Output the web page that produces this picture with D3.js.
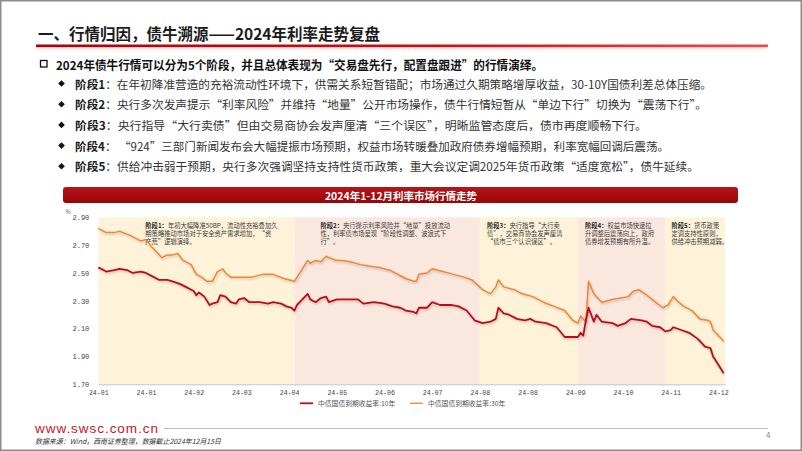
<!DOCTYPE html>
<html>
<head>
<meta charset="utf-8">
<style>
body{margin:0;background:#fff;}
svg{display:block;font-family:"Noto Sans CJK SC","Noto Sans",sans-serif;}
</style>
</head>
<body>
<svg id="slide" width="802" height="451"></svg>

<script src="https://cdn.jsdelivr.net/npm/d3@7.8.5/dist/d3.min.js"></script>
<script>
// 2024 bond yields, trading-day index (0 = first trading day of 2024)
const days10 = [0,3,6,8,11,13,16,18,21,23,26,28,31,33,36,37,38,40,42,43,45,46,48,50,52,53,55,57,58,61,64,66,69,71,73,74,75,77,79,80,82,84,86,87,90,94,98,100,104,108,111,114,116,119,120,121,124,126,129,133,136,139,142,145,148,150,151,153,155,158,161,163,165,169,173,176,179,181,182,183,184,185,187,188,190,194,196,199,201,205,207,209,212,214,216,217,220,223,226,228,229,231,232,234,236];
const yield10 = [2.54,2.51,2.52,2.53,2.52,2.50,2.51,2.50,2.47,2.45,2.45,2.44,2.42,2.40,2.37,2.34,2.36,2.33,2.27,2.28,2.29,2.34,2.33,2.29,2.28,2.31,2.32,2.29,2.29,2.29,2.28,2.29,2.28,2.26,2.25,2.23,2.27,2.31,2.35,2.31,2.29,2.32,2.33,2.29,2.31,2.31,2.31,2.28,2.29,2.28,2.26,2.25,2.23,2.22,2.21,2.25,2.25,2.29,2.27,2.27,2.26,2.23,2.16,2.14,2.15,2.17,2.25,2.21,2.20,2.17,2.16,2.17,2.15,2.14,2.11,2.04,2.04,2.04,2.07,2.05,2.16,2.25,2.15,2.20,2.15,2.14,2.12,2.14,2.17,2.16,2.15,2.12,2.11,2.08,2.09,2.11,2.09,2.07,2.03,1.99,1.97,1.96,1.90,1.84,1.78];

const days30 = [0,3,6,8,12,16,18,20,22,24,26,28,30,32,35,37,39,41,43,45,47,48,50,53,56,58,62,66,70,74,75,77,79,80,82,84,86,87,90,92,95,99,102,106,110,114,116,119,120,121,124,126,130,134,138,141,145,148,150,151,153,157,160,164,168,172,176,179,181,182,184,185,187,190,194,200,202,204,207,209,213,215,217,219,221,224,227,230,231,232,234,236];
const yield30 = [2.82,2.79,2.79,2.80,2.77,2.73,2.74,2.69,2.65,2.61,2.63,2.63,2.64,2.59,2.56,2.49,2.47,2.44,2.44,2.51,2.53,2.50,2.47,2.47,2.47,2.47,2.49,2.49,2.46,2.44,2.47,2.53,2.59,2.57,2.59,2.58,2.62,2.61,2.59,2.59,2.58,2.56,2.55,2.54,2.52,2.48,2.46,2.44,2.44,2.49,2.50,2.53,2.51,2.49,2.47,2.45,2.38,2.35,2.40,2.45,2.40,2.38,2.35,2.33,2.29,2.26,2.23,2.16,2.14,2.19,2.15,2.44,2.35,2.29,2.31,2.33,2.37,2.38,2.34,2.31,2.25,2.27,2.33,2.29,2.26,2.23,2.17,2.16,2.15,2.09,2.05,2.01];

const tickDays = [0,18,36,54,72,90,108,126,144,162,180,198,216,234];
const tickLabels = ["24-01","24-01","24-02","24-03","24-04","24-05","24-06","24-07","24-08","24-08","24-09","24-10","24-11","24-12"];
const yTicks = [1.70,1.90,2.10,2.30,2.50,2.70,2.90];

const seriesNames = ["中债国债到期收益率:10年","中债国债到期收益率:30年"];

// the five phases
const phaseStart = [0,74,144,181,214];
const phaseEnd = [74,144,181,214,236.5];
const phaseNames = ["阶段1","阶段2","阶段3","阶段4","阶段5"];
const phaseNotes = [
  ["年初大幅降准50BP，流动性充裕叠加久","期策略推动市场对于安全资产需求增加，“资","产荒”逻辑演绎。"],
  ["央行提示利率风险并“地量”投放流动","性，利率债市场呈现“阶段性调整、波浪式下","行”。"],
  ["央行指导“大行卖","债”，交易商协会发声厘清","“债市三个认识误区”。"],
  ["权益市场快速拉","升调整后震荡向上，政府","债券增发预期有所升温。"],
  ["货币政策","定调支持性原则，","供给冲击预期减弱。"]
];

const title = "一、行情归因，债牛溯源——2024年利率走势复盘";
const headLine = "2024年债牛行情可以分为5个阶段，并且总体表现为“交易盘先行，配置盘跟进”的行情演绎。";
const bulletText = [
  "：在年初降准营造的充裕流动性环境下，供需关系短暂错配；市场通过久期策略增厚收益，30-10Y国债利差总体压缩。",
  "：央行多次发声提示“利率风险”并维持“地量”公开市场操作，债牛行情短暂从“单边下行”切换为“震荡下行”。",
  "：央行指导“大行卖债”但由交易商协会发声厘清“三个误区”，明晰监管态度后，债市再度顺畅下行。",
  "： “924”三部门新闻发布会大幅提振市场预期，权益市场转暖叠加政府债券增幅预期，利率宽幅回调后震荡。",
  "：供给冲击弱于预期，央行多次强调坚持支持性货币政策，重大会议定调2025年货币政策“适度宽松”，债牛延续。"
];
const chartTitle = "2024年1-12月利率市场行情走势";
const sourceNote = "数据来源：Wind，西南证券整理，数据截止2024年12月15日";

(function main(){
    const svg = d3.select("#slide");
    const W = 802, H = 451;

    const defs = svg.append("defs");
    const rule = defs.append("linearGradient").attr("id","rule").attr("x1",0).attr("x2",1);
    rule.append("stop").attr("offset",0).attr("stop-color","#9c0808");
    rule.append("stop").attr("offset",0.55).attr("stop-color","#c5121a");
    rule.append("stop").attr("offset",1).attr("stop-color","#e25050");
    const glow = defs.append("linearGradient").attr("id","glow").attr("x1",0).attr("x2",0).attr("y1",0).attr("y2",1);
    glow.append("stop").attr("offset",0).attr("stop-color","#f3c8c8");
    glow.append("stop").attr("offset",1).attr("stop-color","#fff").attr("stop-opacity",0);
    const bar = defs.append("linearGradient").attr("id","bar").attr("x1",0).attr("x2",0).attr("y1",0).attr("y2",1);
    bar.append("stop").attr("offset",0).attr("stop-color","#b8141a");
    bar.append("stop").attr("offset",1).attr("stop-color","#970606");
    const shadow = defs.append("filter").attr("id","shadow").attr("x","-5%").attr("y","-20%").attr("width","110%").attr("height","140%");
    shadow.append("feDropShadow").attr("dx",0.8).attr("dy",1.4).attr("stdDeviation",0.9)
        .attr("flood-color","#000").attr("flood-opacity",0.22);

    // slide frame
    svg.append("rect").attr("x",0.75).attr("y",0.75).attr("width",W-1.5).attr("height",H-1.5)
        .attr("fill","#fff").attr("stroke","#8c8c8c").attr("stroke-width",1.5);

    // header
    svg.append("text").attr("x",38).attr("y",32.5).attr("dominant-baseline","central")
        .attr("font-size",16).attr("font-weight","bold").attr("fill","#1b1b1b")
        .attr("textLength",342).attr("lengthAdjust","spacingAndGlyphs").text(title);
    svg.append("rect").attr("x",36).attr("y",47).attr("width",730).attr("height",5).attr("fill","url(#glow)");
    svg.append("rect").attr("x",36).attr("y",44.5).attr("width",732).attr("height",2.6).attr("fill","url(#rule)");

    // bullets
    svg.append("rect").attr("x",40.5).attr("y",60.5).attr("width",6.5).attr("height",6.5)
        .attr("fill","none").attr("stroke","#111").attr("stroke-width",1.3);
    svg.append("text").attr("x",56).attr("y",64).attr("dominant-baseline","central")
        .attr("font-size",12).attr("font-weight","bold").attr("fill","#111")
        .attr("textLength",487).attr("lengthAdjust","spacingAndGlyphs").text(headLine);

    const lineEnds = [712, 707, 647, 669, 699];
    const diamond = d3.symbol().type(d3.symbolSquare).size(22);
    bulletText.forEach((t,i) => {
        const cy = 83.5 + i*20.7;
        svg.append("path").attr("d",diamond).attr("fill","#111")
            .attr("transform",`translate(61.5,${cy}) rotate(45)`);
        const tx = svg.append("text").attr("x",75).attr("y",cy).attr("dominant-baseline","central")
            .attr("font-size",11.6).attr("fill","#333")
            .attr("textLength",lineEnds[i]-75).attr("lengthAdjust","spacingAndGlyphs");
        tx.append("tspan").attr("font-weight","bold").attr("fill","#1a1a1a").text(phaseNames[i]);
        tx.append("tspan").text(t);
    });

    // chart title bar
    svg.append("rect").attr("x",63).attr("y",187).attr("width",675).attr("height",16).attr("rx",3)
        .attr("fill","url(#bar)");
    svg.append("text").attr("x",401).attr("y",195.2).attr("text-anchor","middle").attr("dominant-baseline","central")
        .attr("font-size",10.5).attr("font-weight","bold").attr("fill","#fff").text(chartTitle);

    // scales
    const x = d3.scaleLinear().domain([0, 236.5]).range([98.3, 725]);
    const y = d3.scaleLinear().domain([1.70, 2.90]).range([384.3, 217.3]);

    // phase bands
    const bandFill = ["#fef2d9","#fae8de","#fef2d9","#fae8de","#fef2d9"];
    svg.append("g").selectAll("rect").data(phaseStart).join("rect")
        .attr("x", d => x(d))
        .attr("width", (d,i) => x(phaseEnd[i]) - x(d))
        .attr("y", y(2.90)).attr("height", y(1.70) - y(2.90))
        .attr("fill", (d,i) => bandFill[i]);

    // phase notes
    const noteDx = [47, 26, 7, 7, 6];
    phaseNotes.forEach((lines,i) => {
        const g = svg.append("g").attr("font-size",6.3).attr("fill","#3a3a3a");
        lines.forEach((ln,k) => {
            const t = g.append("text").attr("x", x(phaseStart[i]) + noteDx[i]).attr("y", 225 + k*8.2)
                .attr("dominant-baseline","central");
            if (k === 0) t.append("tspan").attr("font-weight","bold").attr("fill","#222").text(phaseNames[i] + "：");
            t.append("tspan").text(ln);
        });
    });

    // axes
    const xAxis = svg.append("g").attr("transform",`translate(0,${y(1.70)})`)
        .call(d3.axisBottom(x).tickValues(tickDays).tickFormat((d,i) => tickLabels[i]).tickSize(0).tickPadding(6));
    xAxis.select(".domain").attr("stroke","#c4c4c4").attr("stroke-width",1);
    xAxis.selectAll("text").attr("font-family","'Liberation Mono',monospace").attr("font-size",6.6).attr("fill","#444");

    const yAxis = svg.append("g").attr("transform",`translate(${x(0)},0)`)
        .call(d3.axisLeft(y).tickValues(yTicks).tickFormat(d3.format(".2f")).tickSize(0).tickPadding(9));
    yAxis.select(".domain").remove();
    yAxis.selectAll("text").attr("font-family","'Liberation Mono',monospace").attr("font-size",7).attr("fill","#444");
    svg.append("text").attr("x",68).attr("y",212).attr("text-anchor","middle").attr("dominant-baseline","central")
        .attr("font-size",5.5).attr("fill","#555").text("%");

    // lines
    const line = d3.line().x(d => x(d[0])).y(d => y(d[1]));
    const colors = ["#b70f1c","#ee8636"];
    svg.append("path").datum(days30.map((d,i) => [d, yield30[i]]))
        .attr("fill","none").attr("stroke",colors[1]).attr("stroke-width",1.5)
        .attr("stroke-linejoin","round").attr("filter","url(#shadow)").attr("d",line);
    svg.append("path").datum(days10.map((d,i) => [d, yield10[i]]))
        .attr("fill","none").attr("stroke",colors[0]).attr("stroke-width",1.8)
        .attr("stroke-linejoin","round").attr("filter","url(#shadow)").attr("d",line);

    // legend
    const legX = [300, 410];
    seriesNames.forEach((n,i) => {
        svg.append("line").attr("x1",legX[i]).attr("x2",legX[i]+13).attr("y1",403.3).attr("y2",403.3)
            .attr("stroke",colors[i]).attr("stroke-width",i ? 1.3 : 1.8);
        svg.append("text").attr("x",legX[i]+18).attr("y",403.3).attr("dominant-baseline","central")
            .attr("font-size",6.8).attr("fill","#555").text(n);
    });

    // footer
    svg.append("text").attr("x",35).attr("y",428).attr("dominant-baseline","central")
        .attr("font-family","'Liberation Sans',Arial,sans-serif").attr("font-size",13.5).attr("fill","#c3161d")
        .attr("textLength",123).text("www.swsc.com.cn");
    svg.append("line").attr("x1",164).attr("x2",768).attr("y1",428.5).attr("y2",428.5)
        .attr("stroke","#bdbdbd").attr("stroke-width",1);
    svg.append("text").attr("x",35).attr("y",441).attr("dominant-baseline","central")
        .attr("font-size",7).attr("font-style","italic").attr("fill","#333")
        .attr("textLength",186).attr("lengthAdjust","spacingAndGlyphs").text(sourceNote);
    svg.append("text").attr("x",766).attr("y",434).attr("dominant-baseline","central")
        .attr("font-size",8).attr("fill","#888").text("4");
})();
</script>
</body>
</html>
